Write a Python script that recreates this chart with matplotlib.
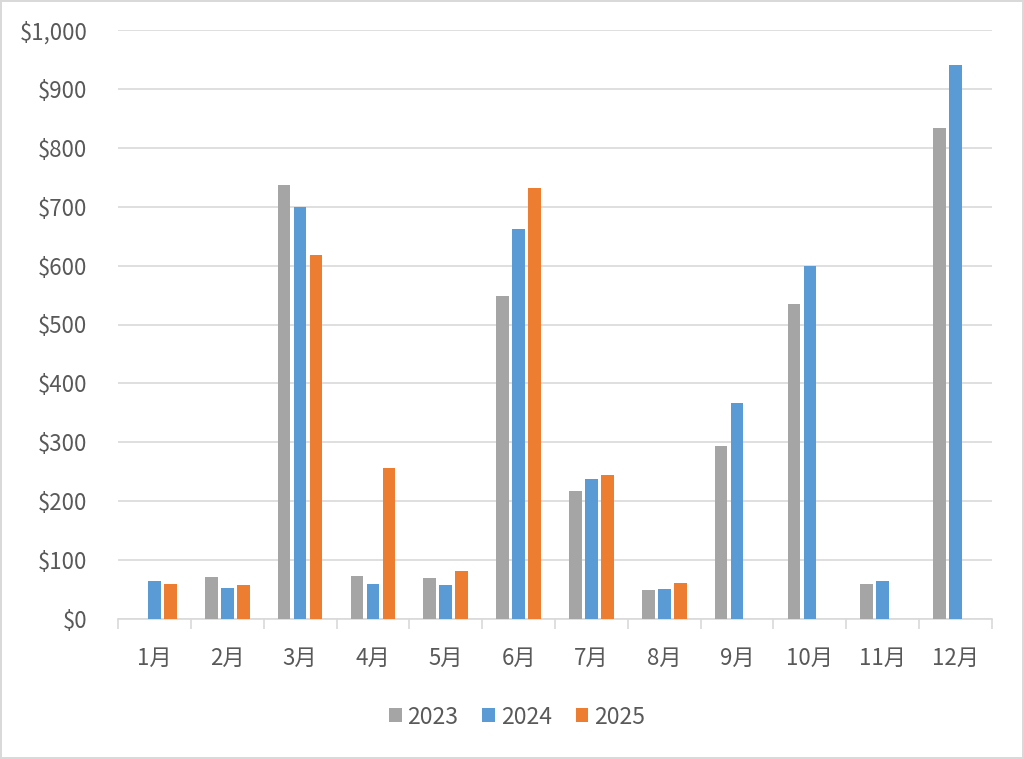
import matplotlib
matplotlib.use("Agg")
import matplotlib.pyplot as plt
from matplotlib.ticker import FuncFormatter, FixedLocator
import numpy as np

plt.rcParams['font.family'] = ['Noto Sans CJK JP', 'DejaVu Sans']

months = ["1月", "2月", "3月", "4月", "5月", "6月", "7月", "8月", "9月", "10月", "11月", "12月"]
series_names = ["2023", "2024", "2025"]
v2023 = [np.nan, 72, 737, 73, 70, 548, 218, 50, 293, 534, 60, 833]
v2024 = [64, 52, 699, 59, 57, 662, 237, 51, 366, 599, 64, 940]
v2025 = [59, 57, 618, 256, 81, 731, 244, 61, np.nan, np.nan, np.nan, np.nan]
colors = ["#a5a5a5", "#5b9bd5", "#ed7d31"]

fig = plt.figure(figsize=(10.24, 7.59), dpi=100)
fig.patch.set_facecolor("white")
fig.patch.set_edgecolor("#d9d9d9")
fig.patch.set_linewidth(1.5)

ax = fig.add_axes([118/1024, 1 - 619/759, 874/1024, 589/759])
x = np.arange(len(months))
step = 0.22
width = 0.175
for i, (vals, c, name) in enumerate(zip([v2023, v2024, v2025], colors, series_names)):
    ax.bar(x + (i - 1) * step, vals, width=width, color=c, label=name, zorder=3)

ax.set_xlim(-0.5, len(months) - 0.5)
ax.set_ylim(0, 1000)
ax.set_yticks(np.arange(0, 1001, 100))
ax.yaxis.set_major_formatter(FuncFormatter(lambda v, p: f"${int(v):,}"))
ax.grid(axis="y", color="#d9d9d9", linewidth=1.2, zorder=0)
ax.set_xticks(x)
ax.set_xticklabels(months)
ax.xaxis.set_minor_locator(FixedLocator(np.arange(-0.5, len(months), 1)))
ax.tick_params(axis="x", which="major", length=0, pad=20, labelsize=16, colors="#595959")
ax.tick_params(axis="x", which="minor", length=7, color="#d9d9d9", width=1.2)
ax.tick_params(axis="y", length=0, pad=22, labelsize=16, colors="#595959")
for s in ["top", "right", "left"]:
    ax.spines[s].set_visible(False)
ax.spines["bottom"].set_color("#d9d9d9")
ax.spines["bottom"].set_linewidth(1.2)
ax.set_facecolor("none")

leg = fig.legend(loc="center", bbox_to_anchor=(517/1024, 1 - 717/759), ncol=3, frameon=False,
                 fontsize=16.5, handlelength=0.55, handleheight=0.55, handletextpad=0.25,
                 columnspacing=1.05, labelcolor="#595959")

fig.savefig("out.png", dpi=100, facecolor=fig.get_facecolor(), edgecolor=fig.get_edgecolor())
